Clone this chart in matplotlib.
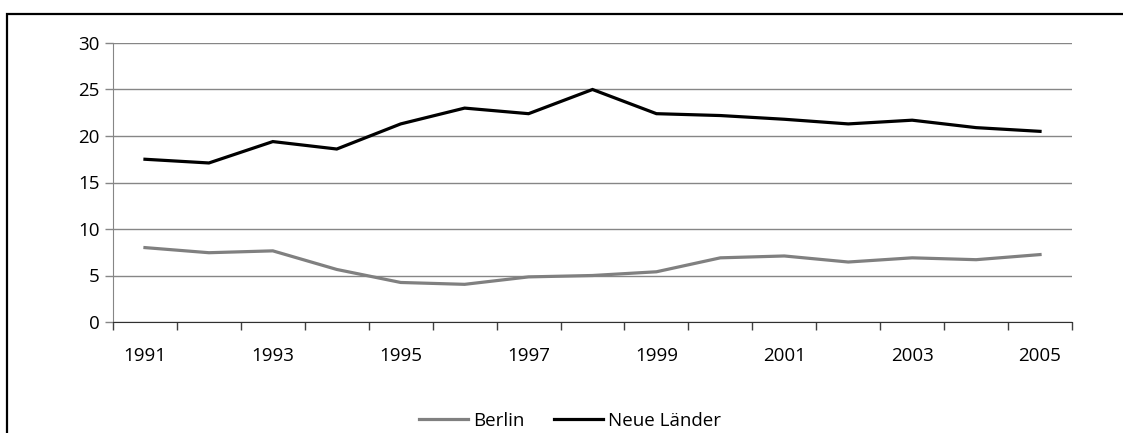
import numpy as np
import matplotlib.pyplot as plt
from matplotlib.patches import Rectangle

plt.rcParams['font.family'] = ['Open Sans', 'DejaVu Sans']

years = [str(y) for y in range(1991, 2006)]
berlin = [8.0, 7.45, 7.65, 5.65, 4.25, 4.05, 4.85, 5.0, 5.4, 6.9, 7.1, 6.45, 6.9, 6.7, 7.25]
neue_laender = [17.5, 17.1, 19.4, 18.6, 21.3, 23.0, 22.4, 25.0, 22.4, 22.2, 21.8, 21.3, 21.7, 20.9, 20.5]

W, H = 1123, 433
fs = 13.5
fig = plt.figure(figsize=(W / 100, H / 100), dpi=100)

# outer frame (only left and top are visible in the picture)
fig.patches.append(Rectangle((7 / W, -0.1), 1.2, (H - 14) / H + 0.1,
                             transform=fig.transFigure, fill=False,
                             edgecolor='black', linewidth=1.6))

ax = fig.add_axes([113 / W, 1 - 322 / H, (1072 - 113) / W, (322 - 43) / H])

x = np.arange(len(years))
ax.plot(x, berlin, color='#808080', lw=2.3, solid_joinstyle='miter', label='Berlin')
ax.plot(x, neue_laender, color='black', lw=2.3, solid_joinstyle='miter', label='Neue Länder')

ax.set_xlim(-0.5, len(years) - 0.5)
ax.set_ylim(0, 30)
ax.set_yticks(range(0, 31, 5))
ax.yaxis.grid(True, color='#868686', lw=1)
ax.set_axisbelow(True)

# category axis: tick marks between categories, labels every second year
ax.set_xticks(x[::2])
ax.set_xticklabels(years[::2])
ax.set_xticks(np.arange(-0.5, len(years), 1), minor=True)
ax.tick_params(axis='x', which='major', length=0, pad=18, labelsize=fs)
ax.tick_params(axis='x', which='minor', length=5.5, width=1, color='#404040', direction='out')
ax.tick_params(axis='y', length=5.5, width=1, color='#868686', pad=4, labelsize=fs)

for s in ['top', 'right']:
    ax.spines[s].set_visible(False)
ax.spines['left'].set_color('#868686')
ax.spines['bottom'].set_color('#303030')

fig.legend(loc='center', bbox_to_anchor=(570 / W, 1 - 421 / H), ncol=2, frameon=False,
           fontsize=fs, handlelength=2.6, handletextpad=0.25, columnspacing=1.6)

fig.savefig('out.png', dpi=100)
